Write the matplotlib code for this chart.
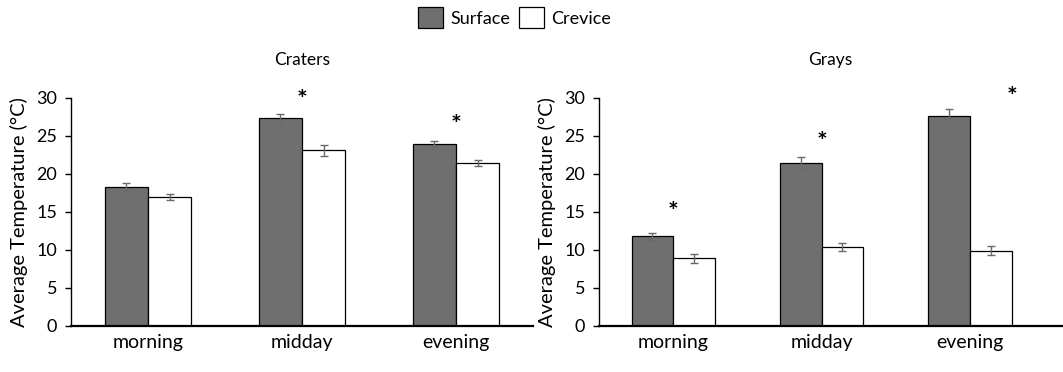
import matplotlib.pyplot as plt
import numpy as np

plt.rcParams['font.family'] = ['Lato', 'DejaVu Sans']

times = ['morning', 'midday', 'evening']

craters_surface = [18.3, 27.3, 24.0]
craters_surface_err = [0.5, 0.55, 0.4]
craters_crevice = [17.0, 23.1, 21.4]
craters_crevice_err = [0.4, 0.7, 0.4]

grays_surface = [11.8, 21.4, 27.6]
grays_surface_err = [0.45, 0.8, 0.9]
grays_crevice = [8.9, 10.4, 9.9]
grays_crevice_err = [0.55, 0.5, 0.6]

# significance stars: (category index, x offset in bar widths, height)
craters_stars = [(1, 0.0, 29.7), (2, 0.0, 26.4)]
grays_stars = [(0, 0.0, 14.9), (1, 0.0, 24.2), (2, 0.5, 30.0)]

surface_color = '#6f6f6f'
err_color = '#6a6a6a'
w = 0.28


def draw_panel(ax, title, surf, surf_err, crev, crev_err, stars, xmax):
    x = np.arange(len(times))
    ax.bar(x - w / 2, surf, w, color=surface_color, edgecolor='black', linewidth=0.9,
           label='Surface', zorder=2)
    ax.bar(x + w / 2, crev, w, color='white', edgecolor='black', linewidth=0.9,
           label='Crevice', zorder=2)
    ax.errorbar(x - w / 2, surf, yerr=surf_err, fmt='none', ecolor=err_color,
                elinewidth=1, capsize=3, capthick=1, zorder=3)
    ax.errorbar(x + w / 2, crev, yerr=crev_err, fmt='none', ecolor=err_color,
                elinewidth=1, capsize=3, capthick=1, zorder=3)
    for i, off, h in stars:
        ax.text(i + off * 2 * w, h, '*', ha='center', va='center', fontsize=18,
                fontweight='bold', clip_on=False)

    ax.set_xlim(-0.5, xmax)
    ax.set_ylim(0, 30)
    ax.set_yticks(range(0, 31, 5))
    ax.set_xticks(x)
    ax.set_xticklabels(times, fontsize=14)
    ax.tick_params(axis='x', length=0, pad=6)
    ax.tick_params(axis='y', labelsize=13, length=4, width=1, direction='out', pad=6)
    ax.set_ylabel('Average Temperature (°C)', fontsize=14.5, labelpad=6)
    ax.set_title(title, fontsize=12.5, pad=24)
    for side in ['top', 'right']:
        ax.spines[side].set_visible(False)
    ax.spines['bottom'].set_linewidth(1.6)
    ax.spines['left'].set_linewidth(1.0)


fig = plt.figure(figsize=(10.63, 3.72), dpi=100)
ax1 = fig.add_axes([0.0668, 0.1237, 0.4346, 0.613])
ax2 = fig.add_axes([0.5635, 0.1237, 0.4356, 0.613])

draw_panel(ax1, 'Craters', craters_surface, craters_surface_err,
           craters_crevice, craters_crevice_err, craters_stars, 2.5)
draw_panel(ax2, 'Grays', grays_surface, grays_surface_err,
           grays_crevice, grays_crevice_err, grays_stars, 2.62)

handles, labels = ax1.get_legend_handles_labels()
fig.legend(handles, labels, loc='center', bbox_to_anchor=(0.484, 0.952), ncol=2,
           frameon=False, fontsize=13, handlelength=1.4, handleheight=1.4,
           handletextpad=0.4, columnspacing=0.5)

fig.savefig('out.png', dpi=100)
